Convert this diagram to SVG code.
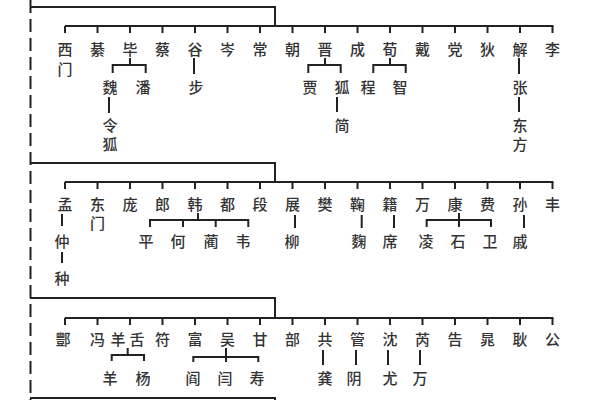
<svg xmlns="http://www.w3.org/2000/svg" width="600" height="400" viewBox="0 0 600 400">
<style>
text{font-family:"Noto Sans CJK SC","Noto Sans CJK TC",sans-serif;font-size:15px;font-weight:500;fill:#333;text-anchor:middle;dominant-baseline:central}
.ln{stroke:#222;stroke-width:2;fill:none}
.dash{stroke:#222;stroke-width:2;fill:none;stroke-dasharray:13 6}
</style>
<rect width="600" height="400" fill="#fff"/>
<g id="connectors">
<path class="dash" d="M30.5,0 V400"/>
<path class="ln" d="M30,7 H275 V26 M65,26 H553.5"/>
<path class="ln" d="M65,26V33 M97.5,26V33 M130,26V33 M162.5,26V33 M195,26V33 M227.5,26V33 M260,26V33 M292.5,26V33 M325,26V33 M357.5,26V33 M390,26V33 M422.5,26V33 M455,26V33 M487.5,26V33 M520,26V33 M552.5,26V33"/>
<path class="ln" d="M130,58V65 M112.7,73V65H145.7V73"/>
<path class="ln" d="M109,97V113"/>
<path class="ln" d="M194,58V74"/>
<path class="ln" d="M325,58V65 M308.3,73V65H340.7V73"/>
<path class="ln" d="M337,97V112"/>
<path class="ln" d="M390,58V65 M373.3,73V65H405.7V73"/>
<path class="ln" d="M519,58V74 M519,97V112"/>
<path class="ln" d="M30,163 H275 V182 M65,182 H553.5"/>
<path class="ln" d="M65,182V189 M97.5,182V189 M130,182V189 M162.5,182V189 M195,182V189 M227.5,182V189 M260,182V189 M292.5,182V189 M325,182V189 M357.5,182V189 M390,182V189 M422.5,182V189 M455,182V189 M487.5,182V189 M520,182V189 M552.5,182V189"/>
<path class="ln" d="M62,214V226 M62,252V263"/>
<path class="ln" d="M198,213V220 M150,227V220H248.3V227 M183,220V227 M215.7,220V227"/>
<path class="ln" d="M295,215V228"/>
<path class="ln" d="M361.7,215V228"/>
<path class="ln" d="M394,215V228"/>
<path class="ln" d="M459,213V227 M426.7,227V220H491V227"/>
<path class="ln" d="M524,215V228"/>
<path class="ln" d="M30,298 H275 V318 M65,318 H553.5"/>
<path class="ln" d="M65,318V325 M97.5,318V325 M130,318V325 M162.5,318V325 M195,318V325 M227.5,318V325 M260,318V325 M292.5,318V325 M325,318V325 M357.5,318V325 M390,318V325 M422.5,318V325 M455,318V325 M487.5,318V325 M520,318V325 M552.5,318V325"/>
<path class="ln" d="M127.7,348V355 M111.7,361V355H144V361"/>
<path class="ln" d="M226,348V362 M193.3,362V357H258.3V362"/>
<path class="ln" d="M323,350V365 M356,350V365 M388,350V365 M420,350V365"/>
<path class="ln" d="M30,398 H275 V400"/>
</g>
<g id="row1">
<g id="n-ximen"><text x="65" y="48">西</text><text x="65" y="68">门</text></g>
<g id="n-qi"><text x="97.5" y="48">綦</text></g>
<g id="n-bi"><text x="130" y="48">毕</text></g>
<g id="n-cai"><text x="162.5" y="48">蔡</text></g>
<g id="n-gu"><text x="195" y="48">谷</text></g>
<g id="n-cen"><text x="227.5" y="48">岑</text></g>
<g id="n-chang"><text x="260" y="48">常</text></g>
<g id="n-chao"><text x="292.5" y="48">朝</text></g>
<g id="n-jin"><text x="325" y="48">晋</text></g>
<g id="n-cheng"><text x="357.5" y="48">成</text></g>
<g id="n-xun"><text x="390" y="48">荀</text></g>
<g id="n-dai"><text x="422.5" y="48">戴</text></g>
<g id="n-dang"><text x="455" y="48">党</text></g>
<g id="n-di"><text x="487.5" y="48">狄</text></g>
<g id="n-xie"><text x="520" y="48">解</text></g>
<g id="n-li"><text x="552.5" y="48">李</text></g>
<g id="n-wei"><text x="110" y="86">魏</text></g>
<g id="n-pan"><text x="143" y="86">潘</text></g>
<g id="n-linghu"><text x="110" y="124">令</text><text x="110" y="143">狐</text></g>
<g id="n-bu"><text x="196" y="86">步</text></g>
<g id="n-jia"><text x="310" y="86">贾</text></g>
<g id="n-hu"><text x="342" y="86">狐</text></g>
<g id="n-jian"><text x="342" y="124">简</text></g>
<g id="n-cheng2"><text x="368" y="86">程</text></g>
<g id="n-zhi"><text x="400" y="86">智</text></g>
<g id="n-zhang"><text x="520" y="86">张</text></g>
<g id="n-dongfang"><text x="520" y="124">东</text><text x="520" y="143">方</text></g>
</g>
<g id="row2">
<g id="n-meng"><text x="65" y="203">孟</text></g>
<g id="n-dongmen"><text x="97.5" y="203">东</text><text x="97.5" y="222">门</text></g>
<g id="n-pang"><text x="130" y="203">庞</text></g>
<g id="n-lang"><text x="162.5" y="203">郎</text></g>
<g id="n-han"><text x="195" y="203">韩</text></g>
<g id="n-du"><text x="227.5" y="203">都</text></g>
<g id="n-duan"><text x="260" y="203">段</text></g>
<g id="n-zhan"><text x="292.5" y="203">展</text></g>
<g id="n-fan"><text x="325" y="203">樊</text></g>
<g id="n-ju"><text x="357.5" y="203">鞠</text></g>
<g id="n-ji"><text x="390" y="203">籍</text></g>
<g id="n-wan"><text x="422.5" y="203">万</text></g>
<g id="n-kang"><text x="455" y="203">康</text></g>
<g id="n-fei"><text x="487.5" y="203">费</text></g>
<g id="n-sun"><text x="520" y="203">孙</text></g>
<g id="n-feng"><text x="552.5" y="203">丰</text></g>
<g id="n-zhong"><text x="62" y="240">仲</text></g>
<g id="n-chong"><text x="62" y="277">种</text></g>
<g id="n-ping"><text x="146" y="240">平</text></g>
<g id="n-he"><text x="178" y="240">何</text></g>
<g id="n-lin"><text x="211" y="240">蔺</text></g>
<g id="n-wei2"><text x="243" y="240">韦</text></g>
<g id="n-liu"><text x="292" y="240">柳</text></g>
<g id="n-qu"><text x="359" y="240">麴</text></g>
<g id="n-xi"><text x="390" y="240">席</text></g>
<g id="n-ling"><text x="426" y="240">凌</text></g>
<g id="n-shi"><text x="458" y="240">石</text></g>
<g id="n-wei3"><text x="490" y="240">卫</text></g>
<g id="n-qi2"><text x="520" y="240">戚</text></g>
</g>
<g id="row3">
<g id="n-feng2"><text x="63" y="338">酆</text></g>
<g id="n-feng3"><text x="97.5" y="338">冯</text></g>
<g id="n-yangshe"><text y="338"><tspan x="118">羊</tspan><tspan x="137">舌</tspan></text></g>
<g id="n-fu"><text x="162.5" y="338">符</text></g>
<g id="n-fu2"><text x="195" y="338">富</text></g>
<g id="n-wu"><text x="227.5" y="338">吴</text></g>
<g id="n-gan"><text x="260" y="338">甘</text></g>
<g id="n-bu2"><text x="292.5" y="338">部</text></g>
<g id="n-gong"><text x="325" y="338">共</text></g>
<g id="n-guan"><text x="357.5" y="338">管</text></g>
<g id="n-shen"><text x="390" y="338">沈</text></g>
<g id="n-rui"><text x="422.5" y="338">芮</text></g>
<g id="n-gao"><text x="455" y="338">告</text></g>
<g id="n-chao2"><text x="487.5" y="338">晁</text></g>
<g id="n-geng"><text x="520" y="338">耿</text></g>
<g id="n-gong2"><text x="552.5" y="338">公</text></g>
<g id="n-yang"><text x="110" y="377">羊</text></g>
<g id="n-yang2"><text x="143" y="377">杨</text></g>
<g id="n-yan"><text x="193" y="377">阎</text></g>
<g id="n-yan2"><text x="225" y="377">闫</text></g>
<g id="n-shou"><text x="257" y="377">寿</text></g>
<g id="n-gong3"><text x="325" y="377">龚</text></g>
<g id="n-yin"><text x="354" y="377">阴</text></g>
<g id="n-you"><text x="390" y="377">尤</text></g>
<g id="n-wan2"><text x="420" y="377">万</text></g>
</g>
</svg>
